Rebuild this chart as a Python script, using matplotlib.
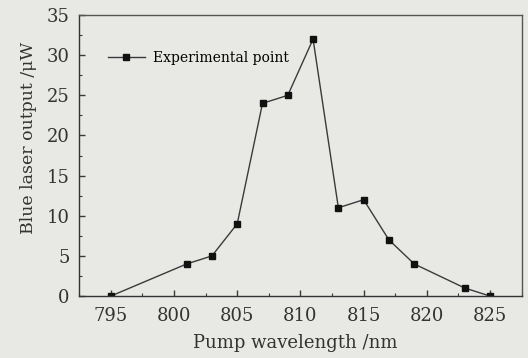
import matplotlib
matplotlib.use('Agg')
import matplotlib.pyplot as plt
from matplotlib.ticker import MultipleLocator

# data
wavelength = [795, 801, 803, 805, 807, 809, 811, 813, 815, 817, 819, 823, 825]
output = [0, 4, 5, 9, 24, 25, 32, 11, 12, 7, 4, 1, 0]

bg = '#e8e8e5'
ink = '#3a3a3a'

plt.rcParams['font.family'] = ['DejaVu Serif']

fig = plt.figure(figsize=(5.28, 3.58), dpi=100, facecolor=bg)
ax = fig.add_axes([0.150, 0.173, 0.838, 0.785], facecolor=bg)

ax.plot(wavelength, output, color=ink, lw=1.0, marker='s', markersize=4,
        markerfacecolor='#111111', markeredgecolor='#111111',
        label='Experimental point')

ax.set_xlim(792.5, 827.5)
ax.set_ylim(0, 35)
ax.xaxis.set_major_locator(MultipleLocator(5))
ax.xaxis.set_minor_locator(MultipleLocator(2.5))
ax.yaxis.set_major_locator(MultipleLocator(5))
ax.yaxis.set_minor_locator(MultipleLocator(2.5))
ax.tick_params(which='both', direction='in', color=ink, labelcolor='#333333',
               labelsize=13, top=False, right=False)
ax.tick_params(which='major', length=4, width=1)
ax.tick_params(which='minor', length=2.5, width=0.8)
ax.tick_params(axis='x', which='major', pad=8)
ax.tick_params(axis='y', which='major', pad=7)
for s in ax.spines.values():
    s.set_color('#555555')
    s.set_linewidth(1.0)
ax.spines['left'].set_color('#333333')
ax.spines['bottom'].set_color('#333333')

ax.set_xlabel('Pump wavelength /nm', fontsize=13, color='#333333', labelpad=2)
ax.xaxis.set_label_coords(0.489, -0.135)
ax.set_ylabel('Blue laser output /μW', fontsize=12.5, color='#333333')
ax.yaxis.set_label_coords(-0.095, 0.562)

ax.legend(loc='center left', bbox_to_anchor=(0.064, 0.847), frameon=False,
          fontsize=10, handlelength=2.7, handletextpad=0.6, borderaxespad=0,
          borderpad=0)

fig.savefig('out.png', dpi=100, facecolor=bg)
